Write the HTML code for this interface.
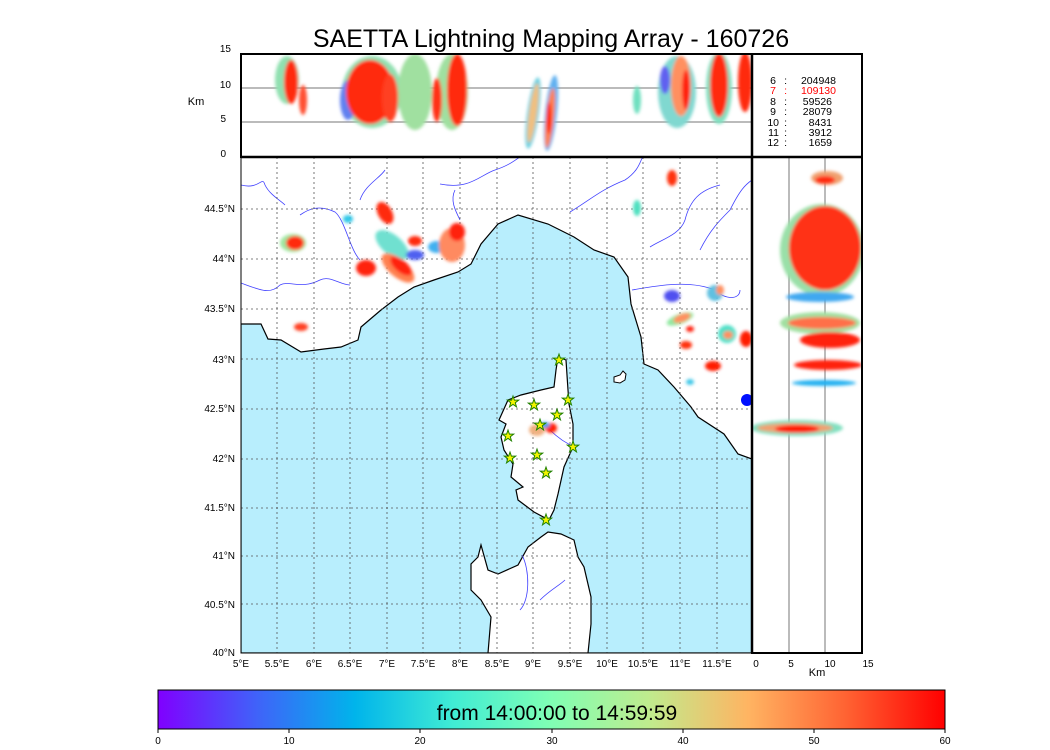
<!DOCTYPE html>
<html><head><meta charset="utf-8"><style>
html,body{margin:0;padding:0;background:#fff;}
svg{display:block;font-family:"Liberation Sans",sans-serif;}
</style></head><body>
<svg width="1050" height="750" viewBox="0 0 1050 750" xmlns="http://www.w3.org/2000/svg">
<defs>
<filter id="b" x="-50%" y="-50%" width="200%" height="200%"><feGaussianBlur stdDeviation="1.6"/></filter>
<linearGradient id="rb" x1="0" x2="1" y1="0" y2="0">
<stop offset="0" stop-color="#8000ff"/><stop offset="0.125" stop-color="#4062f9"/>
<stop offset="0.25" stop-color="#00b4eb"/><stop offset="0.375" stop-color="#40ecd4"/>
<stop offset="0.5" stop-color="#80ffb4"/><stop offset="0.625" stop-color="#c0eb8d"/>
<stop offset="0.75" stop-color="#ffb462"/><stop offset="0.875" stop-color="#ff6232"/>
<stop offset="1" stop-color="#ff0000"/></linearGradient>
<clipPath id="cm"><rect x="241" y="157" width="511" height="496"/></clipPath>
<clipPath id="ct"><rect x="241" y="54" width="511" height="103"/></clipPath>
<clipPath id="cr"><rect x="752" y="157" width="110" height="496"/></clipPath>
</defs>

<text x="551" y="47" font-size="25" text-anchor="middle">SAETTA Lightning Mapping Array - 160726</text>

<!-- MAP -->
<g clip-path="url(#cm)">
<rect x="241" y="157" width="511" height="496" fill="#fff"/>
<polygon fill="#b8eefd" stroke="#000" stroke-width="1.2" points="241,324 261,324 268,339 281,340 301,352 324,349 341,347 358,340 361,327 381,310 398,297 414,287 434,280 458,272 471,264 481,244 498,224 518,215 548,224 574,237 594,250 614,257 628,277 631,304 641,337 644,364 658,370 674,387 691,407 698,417 724,434 738,454 752,459 752,653 241,653"/>
<polygon fill="#fff" stroke="#000" stroke-width="1.2" points="558,357 566,360 568,390 569,404 573,424 573,447 564,467 558,494 554,510 549,520 534,512 518,500 516,490 523,487 511,477 513,464 504,450 501,437 506,424 499,420 508,400 521,395 541,390 554,387 556,370"/>
<polygon fill="#fff" stroke="#000" stroke-width="1.2" points="488,653 491,617 481,600 471,590 471,564 478,557 481,545 488,570 498,574 518,565 528,547 541,537 548,532 561,534 574,540 578,557 584,567 591,597 591,624 588,653"/>
<path d="M614,377 l6,-2 l3,-4 l3,3 l-1,6 l-5,3 l-6,-1 z" fill="#fff" stroke="#000"/>
<!-- rivers -->
<g fill="none" stroke="#4040ff" stroke-width="0.8">
<path d="M241,185 C260,190 262,175 265,185 C270,195 280,200 285,205"/>
<path d="M241,283 C260,290 270,295 280,285 C290,280 300,290 320,280 C330,275 340,285 350,285"/>
<path d="M300,215 C310,208 320,205 335,212 C345,220 350,250 360,260"/>
<path d="M360,200 C365,185 380,178 385,170"/>
<path d="M440,184 C470,190 480,175 495,170 C510,165 515,160 520,157"/>
<path d="M455,190 C450,200 455,210 460,220"/>
<path d="M570,212 C590,200 600,190 625,180 C640,170 640,160 643,157"/>
<path d="M650,247 C660,240 680,235 685,220 C690,200 700,190 720,185"/>
<path d="M700,250 C710,230 720,220 730,210 C740,190 745,185 752,180"/>
<path d="M632,290 C660,285 690,280 715,290 C725,300 740,300 740,290"/>
<path d="M550,430 C560,440 570,445 575,447"/>
<path d="M522,555 C530,570 530,600 520,610"/>
<path d="M540,600 C550,590 560,585 565,580"/>
</g>
<!-- grid -->
<g stroke="#555" stroke-width="0.8" stroke-dasharray="2,3">
<line x1="277" y1="157" x2="277" y2="653"/><line x1="314" y1="157" x2="314" y2="653"/>
<line x1="350" y1="157" x2="350" y2="653"/><line x1="387" y1="157" x2="387" y2="653"/>
<line x1="423" y1="157" x2="423" y2="653"/><line x1="460" y1="157" x2="460" y2="653"/>
<line x1="497" y1="157" x2="497" y2="653"/><line x1="533" y1="157" x2="533" y2="653"/>
<line x1="570" y1="157" x2="570" y2="653"/><line x1="607" y1="157" x2="607" y2="653"/>
<line x1="643" y1="157" x2="643" y2="653"/><line x1="680" y1="157" x2="680" y2="653"/>
<line x1="717" y1="157" x2="717" y2="653"/>
<line x1="241" y1="209" x2="752" y2="209"/><line x1="241" y1="259" x2="752" y2="259"/>
<line x1="241" y1="309" x2="752" y2="309"/><line x1="241" y1="359" x2="752" y2="359"/>
<line x1="241" y1="409" x2="752" y2="409"/><line x1="241" y1="459" x2="752" y2="459"/>
<line x1="241" y1="508" x2="752" y2="508"/><line x1="241" y1="556" x2="752" y2="556"/>
<line x1="241" y1="604" x2="752" y2="604"/>
</g>
<!-- lightning -->
<g filter="url(#b)">
<ellipse cx="293" cy="243" rx="13" ry="9" fill="#9ee8a0"/>
<ellipse cx="295" cy="243" rx="9" ry="7" fill="#ff2a10"/>
<ellipse cx="301" cy="327" rx="7" ry="4" fill="#ff4020"/>
<ellipse cx="348" cy="219" rx="5" ry="4" fill="#30c8e8"/>
<ellipse cx="392" cy="245" rx="20" ry="10" fill="#70e0d0" transform="rotate(40 392 245)"/>
<ellipse cx="398" cy="268" rx="20" ry="9" fill="#ff8050" transform="rotate(40 398 268)"/>
<ellipse cx="401" cy="266" rx="13" ry="6" fill="#ff2010" transform="rotate(40 401 266)"/>
<ellipse cx="385" cy="213" rx="7" ry="12" fill="#ff2a10" transform="rotate(-30 385 213)"/>
<ellipse cx="366" cy="268" rx="10" ry="8" fill="#ff2010"/>
<ellipse cx="415" cy="255" rx="9" ry="5" fill="#5060f0"/>
<ellipse cx="415" cy="241" rx="7" ry="5" fill="#ff2a10"/>
<ellipse cx="437" cy="247" rx="9" ry="6" fill="#40b0f0"/>
<ellipse cx="452" cy="245" rx="13" ry="17" fill="#ff8a60"/>
<ellipse cx="457" cy="232" rx="8" ry="9" fill="#ff2010"/>
<ellipse cx="672" cy="178" rx="5" ry="8" fill="#ff3010"/>
<ellipse cx="637" cy="208" rx="4" ry="8" fill="#50e0c0"/>
<ellipse cx="672" cy="296" rx="8" ry="6" fill="#5050f0"/>
<ellipse cx="715" cy="293" rx="8" ry="8" fill="#60c0e0"/>
<ellipse cx="720" cy="290" rx="4" ry="5" fill="#ff9060"/>
<ellipse cx="680" cy="319" rx="14" ry="5" fill="#90e8a0" transform="rotate(-20 680 319)"/>
<ellipse cx="682" cy="318" rx="9" ry="4" fill="#ff9060" transform="rotate(-20 682 318)"/>
<ellipse cx="727" cy="334" rx="9" ry="9" fill="#50e0c8"/>
<ellipse cx="728" cy="335" rx="5" ry="4" fill="#ff9060"/>
<ellipse cx="746" cy="339" rx="6" ry="8" fill="#ff1a00"/>
<ellipse cx="690" cy="329" rx="4" ry="3" fill="#ff2010"/>
<ellipse cx="713" cy="366" rx="8" ry="5" fill="#ff1a00"/>
<ellipse cx="690" cy="382" rx="4" ry="3" fill="#40c8e8"/>
<ellipse cx="686" cy="345" rx="6" ry="4" fill="#ff3010"/>
<ellipse cx="537" cy="430" rx="8" ry="6" fill="#f0b080"/>
<ellipse cx="551" cy="428" rx="6" ry="5" fill="#ff1a00"/>
<ellipse cx="545" cy="425" rx="5" ry="3" fill="#40a0f0"/>
</g>
<ellipse cx="747" cy="400" rx="6" ry="6" fill="#0010ff"/>
<!-- stars -->
<g fill="#f4f400" stroke="#208000" stroke-width="1">
<polygon id="st" points="0,-6 1.4,-1.9 5.7,-1.9 2.3,0.7 3.5,4.9 0,2.4 -3.5,4.9 -2.3,0.7 -5.7,-1.9 -1.4,-1.9"/>
<use href="#st" x="559" y="360"/><use href="#st" x="513" y="402"/><use href="#st" x="534" y="405"/>
<use href="#st" x="568" y="400"/><use href="#st" x="557" y="415"/><use href="#st" x="540" y="425"/>
<use href="#st" x="508" y="436"/><use href="#st" x="573" y="447"/><use href="#st" x="510" y="458"/>
<use href="#st" x="537" y="455"/><use href="#st" x="546" y="473"/><use href="#st" x="546" y="520"/>
</g>
</g>
<rect x="241" y="157" width="511" height="496" fill="none" stroke="#000" stroke-width="1"/>

<!-- TOP PANEL -->
<rect x="241" y="54" width="621" height="103" fill="#fff"/>
<g clip-path="url(#ct)">
<line x1="241" y1="88" x2="752" y2="88" stroke="#777"/>
<line x1="241" y1="122" x2="752" y2="122" stroke="#777"/>
<g filter="url(#b)">
<ellipse cx="287" cy="80" rx="12" ry="24" fill="#90e0b0"/>
<ellipse cx="291" cy="82" rx="7" ry="22" fill="#ff2a10"/>
<ellipse cx="303" cy="100" rx="4" ry="15" fill="#ff5030"/>
<ellipse cx="372" cy="92" rx="30" ry="36" fill="#90e0b0"/>
<ellipse cx="348" cy="100" rx="8" ry="20" fill="#6080f0"/>
<ellipse cx="370" cy="92" rx="24" ry="32" fill="#ff2a10"/>
<ellipse cx="390" cy="98" rx="8" ry="24" fill="#ff4020"/>
<ellipse cx="415" cy="92" rx="17" ry="38" fill="#a0e0a0"/>
<ellipse cx="452" cy="92" rx="16" ry="38" fill="#a0e0a0"/>
<ellipse cx="457" cy="90" rx="10" ry="36" fill="#ff2a10"/>
<ellipse cx="437" cy="100" rx="5" ry="22" fill="#ff3018"/>
<ellipse cx="533" cy="113" rx="6" ry="36" fill="#70d0e0" transform="rotate(8 533 113)"/>
<ellipse cx="533" cy="113" rx="4" ry="30" fill="#f0c080" transform="rotate(8 533 113)"/>
<ellipse cx="551" cy="113" rx="6" ry="38" fill="#60b0f0" transform="rotate(6 551 113)"/>
<ellipse cx="550" cy="118" rx="4" ry="30" fill="#ff8050" transform="rotate(6 550 118)"/>
<ellipse cx="549" cy="118" rx="2.5" ry="16" fill="#ff1a00"/>
<ellipse cx="637" cy="100" rx="4" ry="14" fill="#70e0c0"/>
<ellipse cx="677" cy="92" rx="19" ry="36" fill="#80d8d0"/>
<ellipse cx="665" cy="80" rx="5" ry="14" fill="#6060f0"/>
<ellipse cx="681" cy="86" rx="10" ry="30" fill="#ff9060"/>
<ellipse cx="686" cy="90" rx="4" ry="20" fill="#ff2010"/>
<ellipse cx="719" cy="88" rx="13" ry="36" fill="#80e0c0"/>
<ellipse cx="719" cy="85" rx="9" ry="32" fill="#ff2a10"/>
<ellipse cx="745" cy="82" rx="7" ry="30" fill="#ff2a10"/>
</g>
</g>
<rect x="241" y="54" width="621" height="103" fill="none" stroke="#000" stroke-width="2"/>
<line x1="752" y1="54" x2="752" y2="157" stroke="#000" stroke-width="2.5"/>
<g font-size="10.5" fill="#000" text-anchor="end">
<text x="776" y="84">6</text><text x="787" y="84">:</text><text x="836" y="84">204948</text>
<text x="776" y="94" fill="#f00">7</text><text x="787" y="94" fill="#f00">:</text><text x="836" y="94" fill="#f00">109130</text>
<text x="776" y="105">8</text><text x="787" y="105">:</text><text x="832" y="105">59526</text>
<text x="776" y="115">9</text><text x="787" y="115">:</text><text x="832" y="115">28079</text>
<text x="779" y="126">10</text><text x="787" y="126">:</text><text x="832" y="126">8431</text>
<text x="779" y="136">11</text><text x="787" y="136">:</text><text x="832" y="136">3912</text>
<text x="779" y="146">12</text><text x="787" y="146">:</text><text x="832" y="146">1659</text>
</g>

<!-- RIGHT PANEL -->
<rect x="752" y="157" width="110" height="496" fill="#fff"/>
<g clip-path="url(#cr)">
<line x1="789" y1="157" x2="789" y2="653" stroke="#777"/>
<line x1="825" y1="157" x2="825" y2="653" stroke="#777"/>
<g filter="url(#b)">
<ellipse cx="827" cy="178" rx="16" ry="7" fill="#f0a070"/>
<ellipse cx="825" cy="180" rx="10" ry="4" fill="#ff2a10"/>
<ellipse cx="822" cy="250" rx="42" ry="46" fill="#9ae0a8"/>
<ellipse cx="825" cy="248" rx="36" ry="42" fill="#ff3018"/>
<ellipse cx="820" cy="297" rx="34" ry="5" fill="#40a8f0"/>
<ellipse cx="820" cy="323" rx="40" ry="11" fill="#a0e0a0"/>
<ellipse cx="822" cy="323" rx="34" ry="6" fill="#ff7048"/>
<ellipse cx="830" cy="340" rx="30" ry="8" fill="#ff2010"/>
<ellipse cx="828" cy="365" rx="34" ry="5" fill="#ff2010"/>
<ellipse cx="824" cy="383" rx="32" ry="3" fill="#20b0f0"/>
<ellipse cx="797" cy="428" rx="46" ry="8" fill="#80e0c0"/>
<ellipse cx="795" cy="428" rx="38" ry="5" fill="#f0a070"/>
<ellipse cx="797" cy="429" rx="22" ry="4" fill="#ff1a00"/>
</g>
</g>
<rect x="752" y="157" width="110" height="496" fill="none" stroke="#000" stroke-width="2"/>
<line x1="752" y1="157" x2="752" y2="653" stroke="#000" stroke-width="2.5"/>
<line x1="241" y1="157" x2="862" y2="157" stroke="#000" stroke-width="2.5"/>

<!-- axis labels -->
<g font-size="10" text-anchor="end">
<text x="231" y="52">15</text><text x="231" y="88">10</text><text x="226" y="122">5</text><text x="226" y="157">0</text>
</g>
<text x="196" y="105" font-size="11" text-anchor="middle">Km</text>
<g font-size="10" text-anchor="end">
<text x="235" y="212">44.5°N</text><text x="235" y="262">44°N</text><text x="235" y="312">43.5°N</text>
<text x="235" y="363">43°N</text><text x="235" y="412">42.5°N</text><text x="235" y="462">42°N</text>
<text x="235" y="511">41.5°N</text><text x="235" y="559">41°N</text><text x="235" y="608">40.5°N</text>
<text x="235" y="656">40°N</text>
</g>
<g font-size="10" text-anchor="middle">
<text x="241" y="667">5°E</text><text x="277" y="667">5.5°E</text><text x="314" y="667">6°E</text>
<text x="350" y="667">6.5°E</text><text x="387" y="667">7°E</text><text x="423" y="667">7.5°E</text>
<text x="460" y="667">8°E</text><text x="497" y="667">8.5°E</text><text x="533" y="667">9°E</text>
<text x="570" y="667">9.5°E</text><text x="607" y="667">10°E</text><text x="643" y="667">10.5°E</text>
<text x="680" y="667">11°E</text><text x="717" y="667">11.5°E</text>
<text x="756" y="667">0</text><text x="791" y="667">5</text><text x="830" y="667">10</text><text x="868" y="667">15</text>
</g>
<text x="817" y="676" font-size="11" text-anchor="middle">Km</text>

<!-- colorbar -->
<rect x="158" y="690" width="787" height="39" fill="url(#rb)" stroke="#000" stroke-width="1"/>
<text x="557" y="720" font-size="21" text-anchor="middle">from 14:00:00 to 14:59:59</text>
<g stroke="#000"><line x1="158" y1="729" x2="158" y2="733"/><line x1="289" y1="729" x2="289" y2="733"/>
<line x1="420" y1="729" x2="420" y2="733"/><line x1="552" y1="729" x2="552" y2="733"/>
<line x1="683" y1="729" x2="683" y2="733"/><line x1="814" y1="729" x2="814" y2="733"/><line x1="945" y1="729" x2="945" y2="733"/></g>
<g font-size="10" text-anchor="middle">
<text x="158" y="744">0</text><text x="289" y="744">10</text><text x="420" y="744">20</text><text x="552" y="744">30</text>
<text x="683" y="744">40</text><text x="814" y="744">50</text><text x="945" y="744">60</text>
</g>
</svg>
</body></html>
